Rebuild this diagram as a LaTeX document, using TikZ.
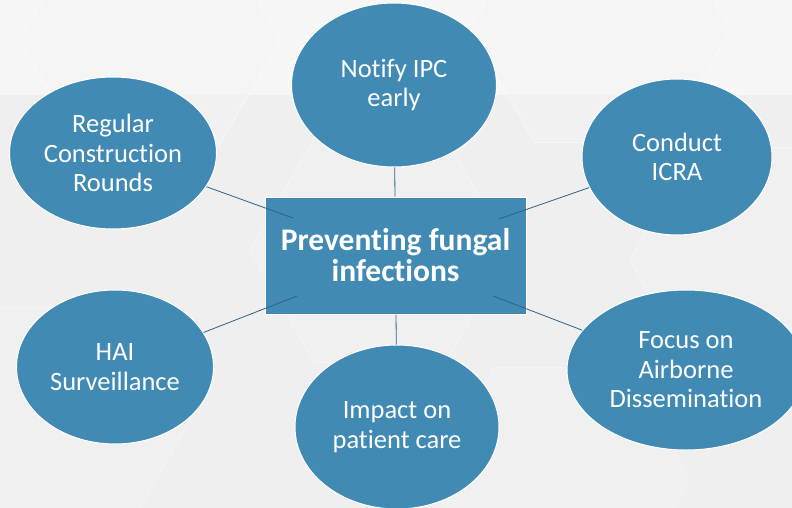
\documentclass[tikz,border=0pt]{standalone}
\usepackage{fontspec}
\setmainfont{Carlito}[Ligatures=NoCommon]
\usetikzlibrary{shapes.geometric}
\definecolor{bg}{HTML}{EFEFEF}
\definecolor{hexfill}{HTML}{F4F4F4}
\definecolor{bubble}{HTML}{408AB4}
\definecolor{link}{HTML}{2F6283}
\tikzset{
  bubble/.style={ellipse, fill=bubble, draw=white, line width=1pt, inner sep=0pt,
    text=white, align=center, font=\fontsize{26.5}{29.5}\selectfont},
  hub/.style={rectangle, fill=bubble, draw=white, line width=1pt, inner sep=0pt,
    text=white, align=center, font=\fontsize{31.5}{31}\selectfont\bfseries},
  link/.style={draw=link, line width=0.8pt},
  hex/.style={regular polygon, regular polygon sides=6, fill=hexfill, draw=white, line width=1pt, inner sep=0pt}
}
\begin{document}
\begin{tikzpicture}[x=1pt,y=-1pt]
  % page and background honeycomb
  \fill[bg] (0,0) rectangle (792,508);
  \useasboundingbox (0,0) rectangle (792,508);
  \fill[white, opacity=0.5] (0,0) rectangle (792,95);
  \node[hex, minimum size=260pt, opacity=0.45] (h1) at (150,40) {};
  \node[hex, minimum size=260pt, opacity=0.45] (h2) at (600,30) {};
  \node[hex, minimum size=260pt, opacity=0.35] (h3) at (380,250) {};
  \node[hex, minimum size=260pt, opacity=0.35] (h4) at (760,260) {};
  \node[hex, minimum size=260pt, opacity=0.3] (h5) at (60,420) {};
  \node[hex, minimum size=260pt, opacity=0.3] (h6) at (560,480) {};

  % centre box
  \node[hub, minimum width=261pt, minimum height=117pt] (hub) at (395.5,255.5)
    {Preventing fungal\\infections};

  % surrounding topics
  \node[bubble, minimum width=205pt, minimum height=164pt] (notify) at (394,85) {Notify IPC\\early};
  \node[bubble, minimum width=190pt, minimum height=156pt] (icra) at (677,157) {Conduct\\ICRA};
  \node[bubble, minimum width=207pt, minimum height=152pt] (rounds) at (113,153) {Regular\\Construction\\Rounds};
  \node[bubble, minimum width=197pt, minimum height=154pt] (hai) at (115,367) {HAI\\Surveillance};
  \node[bubble, minimum width=204pt, minimum height=164pt] (impact) at (397,427) {Impact on\\patient care};
  \node[bubble, minimum width=238pt, minimum height=160pt] (focus) at (686,370) {Focus on\\Airborne\\Dissemination};

  % connector ends inside the centre box
  \coordinate (tl) at (293,218);
  \coordinate (tr) at (499,219);
  \coordinate (bl) at (297,296);
  \coordinate (br) at (493,296);

  \draw[link] (rounds) -- (tl);
  \draw[link] (icra) -- (tr);
  \draw[link] (hai) -- (bl);
  \draw[link] (focus) -- (br);
  \draw[link] (notify) -- (hub);
  \draw[link] (impact) -- (hub);
\end{tikzpicture}
\end{document}
